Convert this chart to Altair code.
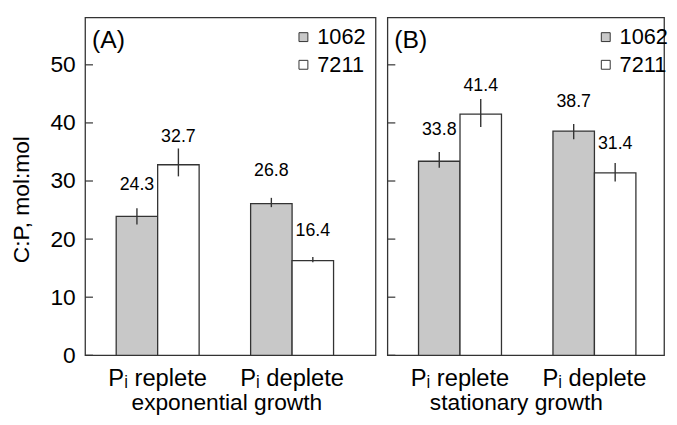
import altair as alt
import pandas as pd

# ---- data ----
cond_order = ["Pᵢ replete", "Pᵢ deplete"]
conditions = ["Pᵢ replete", "Pᵢ replete", "Pᵢ deplete", "Pᵢ deplete"]
strains = ["1062", "7211", "1062", "7211"]
strain_order = ["1062", "7211"]

exp_bar = [23.9, 32.8, 26.1, 16.3]
exp_lo = [22.5, 30.8, 25.5, 16.0]
exp_hi = [25.3, 35.6, 27.1, 16.9]
exp_label = [24.3, 32.7, 26.8, 16.4]

sta_bar = [33.4, 41.5, 38.6, 31.4]
sta_lo = [32.3, 39.3, 37.2, 29.9]
sta_hi = [35.0, 44.1, 39.8, 33.1]
sta_label = [33.8, 41.4, 38.7, 31.4]

y_ticks = [0, 10, 20, 30, 40, 50]
panel_tags = ["(A)", "(B)"]
growth_titles = ["exponential growth", "stationary growth"]
y_title = "C:P, mol:mol"

FONT = "Liberation Sans"
INK = "#333333"


def panel(bar, lo, hi, lab, tag, xtitle, width, first, title_x):
    df = pd.DataFrame({
        "cond": conditions, "strain": strains, "bar": bar,
        "lo": lo, "hi": hi, "lab": lab,
        "labtxt": [f"{v:.1f}" for v in lab],
    })
    xscale = alt.Scale(domain=cond_order, range=[31.5, 251.5],
                       paddingInner=0.383, paddingOuter=0)
    xaxis = alt.Axis(title=xtitle, labelAngle=0, ticks=False, domain=False,
                     grid=False, labelFontSize=24, labelPadding=12,
                     titleFontSize=23, titleFontWeight="normal",
                     titlePadding=1, titleX=title_x, labelColor="black",
                     titleColor="black")
    x = alt.X("cond:N", scale=xscale, sort=cond_order, axis=xaxis)
    xo = alt.XOffset("strain:N", scale=alt.Scale(domain=strain_order,
                                                 paddingInner=0, paddingOuter=0))
    yscale = alt.Scale(domain=[0, 58.17], nice=False, zero=True)
    if first:
        yaxis = alt.Axis(values=y_ticks, title=y_title, grid=False, ticks=False,
                         tickSize=0, domain=False, labelFontSize=23,
                         labelPadding=10, titleFontSize=23,
                         titleFontWeight="normal", titleX=-64, titleY=184,
                         titleBaseline="middle", labelColor="black",
                         titleColor="black")
    else:
        yaxis = alt.Axis(values=y_ticks, title=None, grid=False, ticks=False,
                         tickSize=0, domain=False, labels=False)

    base = alt.Chart(df)
    bars = base.mark_bar(stroke=INK, strokeWidth=1.3).encode(
        x=x, xOffset=xo,
        y=alt.Y("bar:Q", scale=yscale, axis=yaxis),
        color=alt.Color("strain:N",
                        scale=alt.Scale(domain=strain_order,
                                        range=["#c8c8c8", "#ffffff"]),
                        legend=alt.Legend(title=None, orient="none",
                                          legendX=210, legendY=9,
                                          symbolType="square", symbolSize=81,
                                          symbolStrokeColor=INK,
                                          symbolStrokeWidth=1,
                                          labelFontSize=22, labelOffset=3,
                                          rowPadding=6, padding=0,
                                          labelColor="black")),
    )
    errs = base.mark_rule(color=INK, strokeWidth=1.4).encode(
        x=x, xOffset=xo, y=alt.Y("lo:Q", scale=yscale), y2="hi:Q")
    labels = base.mark_text(fontSize=18, dy=-29, baseline="middle",
                            color="black").encode(
        x=x, xOffset=xo, y=alt.Y("lab:Q", scale=yscale), text="labtxt:N")
    ticks = alt.Chart(pd.DataFrame({"t": y_ticks})).mark_rule(
        color=INK, strokeWidth=1.2).encode(
        y=alt.Y("t:Q", scale=yscale), x=alt.value(0), x2=alt.value(8))
    tagc = alt.Chart(pd.DataFrame({"p": [tag]})).mark_text(
        align="left", baseline="middle", fontSize=25, color="black").encode(
        x=alt.value(7), y=alt.value(23), text="p:N")
    return alt.layer(bars, errs, labels, ticks, tagc).properties(
        width=width, height=342)


pa = panel(exp_bar, exp_lo, exp_hi, exp_label, panel_tags[0],
           growth_titles[0], 294, True, 143)
pb = panel(sta_bar, sta_lo, sta_hi, sta_label, panel_tags[1],
           growth_titles[1], 280, False, 130)

chart = alt.hconcat(pa, pb, spacing=9).resolve_scale(
    x="independent", y="independent", color="independent"
).configure(
    font=FONT,
    padding={"left": 2, "top": 6, "right": 0, "bottom": 0},
).configure_view(stroke=INK, strokeWidth=1.3)

chart.save("out.html", embed_options={"renderer": "svg", "actions": False})
